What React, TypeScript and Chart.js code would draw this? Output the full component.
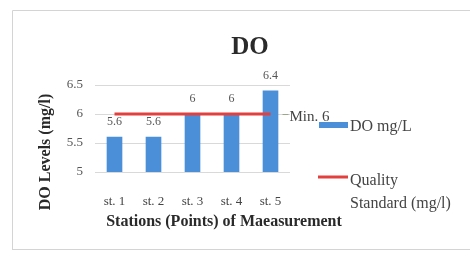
import React, { useEffect, useRef } from "react";
import { Chart, registerables } from "chart.js";

Chart.register(...registerables);

const categories = ["st. 1", "st. 2", "st. 3", "st. 4", "st. 5"];
const doValues = [5.6, 5.6, 6, 6, 6.4];
const standardValues = [6, 6, 6, 6, 6];
const yTicks = [5, 5.5, 6, 6.5];
const chartTitle = "DO";
const xTitle = "Stations (Points) of Maeasurement";
const yTitle = "DO Levels (mg/l)";
const seriesNames = ["DO mg/L", "Quality Standard (mg/l)"];
const minLabel = "Min. 6";

const SERIF = "'Liberation Serif', 'Times New Roman', serif";
const BLUE = "#4a8fd8";
const RED = "#e2403f";

export default function App() {
  const ref = useRef<HTMLCanvasElement | null>(null);
  useEffect(() => {
    document.body.style.margin = "0";
    const canvas = ref.current!;
    const overlay = {
      id: "overlay",
      afterDatasetsDraw(chart: any) {
        const ctx = chart.ctx;
        const x = chart.scales.x;
        const y = chart.scales.y;
        ctx.save();
        // frame
        ctx.strokeStyle = "#d4d4d4";
        ctx.lineWidth = 1;
        ctx.beginPath();
        ctx.moveTo(12.5, 250);
        ctx.lineTo(12.5, 10.5);
        ctx.lineTo(470, 10.5);
        ctx.moveTo(12.5, 249.5);
        ctx.lineTo(470, 249.5);
        ctx.stroke();
        // title
        ctx.fillStyle = "#2a2a2a";
        ctx.font = `bold 25px ${SERIF}`;
        ctx.textAlign = "center";
        ctx.textBaseline = "middle";
        ctx.fillText(chartTitle, 250, 48);
        // data labels
        ctx.font = `12px ${SERIF}`;
        ctx.fillStyle = "#555";
        doValues.forEach((v, i) => {
          const px = x.getPixelForValue(i);
          const py = y.getPixelForValue(v);
          ctx.fillText(String(v), px, py - 15);
        });
        // min label
        const last = standardValues.length - 1;
        const lx = x.getPixelForValue(last);
        const ly = y.getPixelForValue(standardValues[last]);
        ctx.strokeStyle = "#9aa88a";
        ctx.beginPath();
        ctx.moveTo(lx + 12, ly + 0.5);
        ctx.lineTo(lx + 18, ly + 0.5);
        ctx.stroke();
        ctx.fillStyle = "#444";
        ctx.font = `15px ${SERIF}`;
        ctx.textAlign = "left";
        ctx.fillText(minLabel, lx + 19, ly + 3);
        // axis titles
        ctx.fillStyle = "#2a2a2a";
        ctx.font = `bold 16px ${SERIF}`;
        ctx.textAlign = "center";
        ctx.fillText(xTitle, 224, 222);
        ctx.save();
        ctx.translate(46, 152);
        ctx.rotate(-Math.PI / 2);
        ctx.fillText(yTitle, 0, 0);
        ctx.restore();
        // legend
        ctx.fillStyle = BLUE;
        ctx.fillRect(319, 122, 29, 6);
        ctx.strokeStyle = RED;
        ctx.lineWidth = 3;
        ctx.beginPath();
        ctx.moveTo(318, 177);
        ctx.lineTo(348, 177);
        ctx.stroke();
        ctx.fillStyle = "#444";
        ctx.font = `16px ${SERIF}`;
        ctx.textAlign = "left";
        ctx.fillText(seriesNames[0], 350, 127);
        ctx.fillText("Quality", 350, 181);
        ctx.fillText("Standard (mg/l)", 350, 204);
        ctx.restore();
      },
    };
    const chart = new Chart(canvas, {
      type: "bar",
      data: {
        labels: categories,
        datasets: [
          {
            type: "line",
            label: seriesNames[1],
            data: standardValues,
            borderColor: RED,
            borderWidth: 3,
            pointRadius: 0,
            fill: false,
            order: 0,
          } as any,
          {
            type: "bar",
            label: seriesNames[0],
            data: doValues.map((v) => v),
            backgroundColor: BLUE,
            barThickness: 15,
            order: 1,
          },
        ],
      },
      options: {
        responsive: false,
        animation: false,
        devicePixelRatio: 1,
        layout: { padding: { left: 0, right: 180, top: 85, bottom: 41 } },
        plugins: { legend: { display: false }, title: { display: false }, tooltip: { enabled: false } },
        scales: {
          x: {
            grid: { display: false },
            border: { display: false },
            ticks: { padding: 14, color: "#444", font: { family: SERIF, size: 13 } },
            afterFit: (s: any) => { s.height = 40; },
          },
          y: {
            min: yTicks[0],
            max: yTicks[yTicks.length - 1],
            afterBuildTicks: (s: any) => { s.ticks = yTicks.map((v) => ({ value: v })); },
            grid: { color: "#d9d9d9", drawTicks: false },
            border: { display: false },
            ticks: {
              padding: 12,
              color: "#555",
              font: { family: SERIF, size: 13 },
              callback: (v: any) => String(Number(v)),
            },
            afterFit: (s: any) => { s.width = 95; },
          },
        },
      },
      plugins: [overlay],
    });
    return () => chart.destroy();
  }, []);
  return (
    <div style={{ position: "absolute", left: 0, top: 0, width: 470, height: 253, background: "#fff" }}>
      <canvas ref={ref} width={470} height={253} />
    </div>
  );
}
